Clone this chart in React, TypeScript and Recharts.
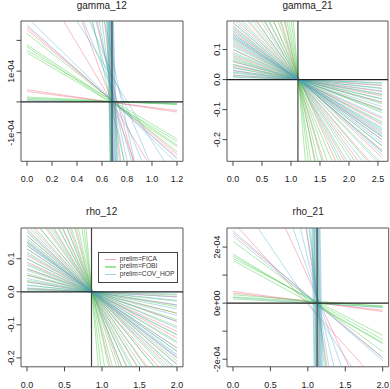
import React from 'react';
import { LineChart, Line, XAxis, YAxis, ReferenceLine, ReferenceArea } from 'recharts';

const FONT = '"Liberation Sans", Arial, Helvetica, sans-serif';

const SERIES = ['prelim=FICA', 'prelim=FOBI', 'prelim=COV_HOP'];
const COLORS = ['#e8506e', '#3ccc3c', '#4aa3c8'];
const OPACITY = [0.38, 0.42, 0.38];

// gamma_12 : each line goes from x = 0 (start) to x = 1.2 (end)
const g12XEnd = 1.2;
const g12XTicks = [0, 0.2, 0.4, 0.6, 0.8, 1.0, 1.2];
const g12YTicks = [-1e-4, 0, 1e-4, 2e-4];
const g12YLabels = ['-1e-04', '', '1e-04', ''];
const g12FicaStart = [2.44e-4, 2.35e-4, 0.40e-4, 0.34e-4, 4.62e-4, 7.41e-4, 11.0e-4, 24.3e-4, 300e-4];
const g12FicaEnd = [-1.80e-4, -1.70e-4, -0.33e-4, -0.28e-4, -3.54e-4, -5.67e-4, -7.24e-4, -17.7e-4, -230e-4];
const g12FobiStart = [2.22e-4, 1.86e-4, 1.79e-4, 1.68e-4, 1.60e-4, 0.16e-4, 0.12e-4, 0.08e-4, 12.0e-4, 22.2e-4, 400e-4, 500e-4];
const g12FobiEnd = [-1.62e-4, -1.40e-4, -1.45e-4, -1.20e-4, -1.28e-4, -0.09e-4, -0.07e-4, -0.06e-4, -9.5e-4, -16.9e-4, -327e-4, -400e-4];
const g12CovStart = [2.75e-4, 2.50e-4, 0.05e-4, 5.23e-4, 7.0e-4, 7.38e-4, 10.0e-4, 13.3e-4, 14.4e-4, 15.8e-4,
  0.01, 0.01, 0.01, 0.01, 0.01, 0.01, 0.01, 0.01, 0.01, 0.01, 0.01, 0.01];
const g12CovEnd = [-2.0e-4, -1.85e-4, -0.04e-4, -2.58e-4, -4.64e-4, -4.02e-4, -7.1e-4, -9.5e-4, -8.4e-4, -11.6e-4,
  -0.00832, -0.00818, -0.00805, -0.00791, -0.00778, -0.00765, -0.00752, -0.00739, -0.00727, -0.00714, -0.00702, -0.0069];

// gamma_21 : x from 0 to 2.57
const g21XEnd = 2.57;
const g21XTicks = [0, 0.5, 1.0, 1.5, 2.0, 2.5];
const g21YTicks = [-0.2, -0.1, 0, 0.1];
const g21YLabels = ['-0.2', '-0.1', '0.0', '0.1'];
const g21FicaStart = [0.015, 0.03, 0.045, 0.06, 0.08, 0.1, 0.12, 0.14, 0.16, 0.18, 0.21, 0.25, 0.3, 0.38, 0.5, 0.7, 1.0];
const g21FicaEnd = [-0.02, -0.04, -0.055, -0.075, -0.1, -0.13, -0.15, -0.18, -0.2, -0.235, -0.26, -0.32, -0.38, -0.49, -0.62, -0.9, -1.3];
const g21FobiStart = [0.01, 0.025, 0.04, 0.05, 0.065, 0.075, 0.09, 0.11, 0.13, 0.15, 0.17, 0.19, 0.22, 0.26, 0.31, 0.37, 0.44, 0.52, 0.62, 0.75, 0.9, 1.1, 1.4, 1.8, 2.5];
const g21FobiEnd = [-0.012, -0.03, -0.05, -0.065, -0.08, -0.1, -0.11, -0.14, -0.165, -0.19, -0.22, -0.24, -0.28, -0.33, -0.4, -0.47, -0.56, -0.67, -0.79, -0.96, -1.15, -1.4, -1.8, -2.3, -3.2];
const g21CovStart = [0.008, 0.015, 0.022, 0.03, 0.038, 0.05, 0.06, 0.07, 0.085, 0.1, 0.115, 0.125, 0.135, 0.14, 0.145, 0.15, 0.155, 0.165, 0.175, 0.19, 0.2, 0.23, 0.28, 0.34, 0.42];
const g21CovEnd = [-0.01, -0.018, -0.028, -0.038, -0.048, -0.063, -0.075, -0.09, -0.105, -0.125, -0.145, -0.16, -0.17, -0.175, -0.185, -0.19, -0.2, -0.21, -0.22, -0.24, -0.25, -0.29, -0.355, -0.43, -0.53];

// rho_12 : x from 0 to 2
const r12XEnd = 2;
const r12XTicks = [0, 0.5, 1.0, 1.5, 2.0];
const r12YTicks = [-0.2, -0.1, 0, 0.1];
const r12YLabels = ['-0.2', '-0.1', '0.0', '0.1'];
const r12FicaStart = [0.01, 0.03, 0.05, 0.07, 0.09, 0.11, 0.13, 0.15, 0.17, 0.19, 0.22, 0.27, 0.33, 0.42, 0.55, 0.8];
const r12FicaEnd = [-0.015, -0.04, -0.065, -0.09, -0.12, -0.14, -0.17, -0.2, -0.22, -0.25, -0.29, -0.35, -0.43, -0.55, -0.71, -1.05];
const r12FobiStart = [0.008, 0.02, 0.035, 0.05, 0.065, 0.08, 0.1, 0.12, 0.14, 0.16, 0.18, 0.21, 0.24, 0.28, 0.32, 0.37, 0.43, 0.5, 0.6, 0.72, 0.9, 1.2, 1.6, 2.2];
const r12FobiEnd = [-0.01, -0.028, -0.045, -0.065, -0.085, -0.105, -0.13, -0.155, -0.18, -0.21, -0.235, -0.27, -0.31, -0.36, -0.42, -0.48, -0.56, -0.65, -0.78, -0.94, -1.17, -1.56, -2.1, -2.9];
const r12CovStart = [0.005, 0.012, 0.02, 0.03, 0.04, 0.055, 0.07, 0.085, 0.1, 0.115, 0.13, 0.14, 0.145, 0.15, 0.155, 0.17, 0.185, 0.2, 0.24, 0.3, 0.38, 0.5];
const r12CovEnd = [-0.007, -0.016, -0.026, -0.04, -0.052, -0.072, -0.09, -0.11, -0.13, -0.15, -0.17, -0.18, -0.19, -0.195, -0.2, -0.22, -0.24, -0.26, -0.31, -0.39, -0.5, -0.65];

// rho_21 : x from 0 to 2
const r21XEnd = 2;
const r21XTicks = [0, 0.5, 1.0, 1.5, 2.0];
const r21YTicks = [-2e-4, -1e-4, 0, 1e-4, 2e-4];
const r21YLabels = ['-2e-04', '', '0e+00', '', '2e-04'];
const r21FicaStart = [2.50e-4, 0.42e-4, 0.36e-4, 2.9e-4, 6.75e-4, 20e-4, 0.02];
const r21FicaEnd = [-1.95e-4, -0.30e-4, -0.25e-4, -3.0e-4, -4.89e-4, -15.5e-4, -0.0154];
const r21FobiStart = [2.20e-4, 1.75e-4, 1.68e-4, 1.60e-4, 1.52e-4, 0.30e-4, 0.22e-4, 0.15e-4, 25e-4, 0.02, 0.02];
const r21FobiEnd = [-1.73e-4, -1.45e-4, -1.30e-4, -1.15e-4, -1.40e-4, -0.12e-4, -0.10e-4, -0.14e-4, -19e-4, -0.01636, -0.0148];
const r21CovStart = [2.58e-4, 2.40e-4, 0.20e-4, 4.0e-4, 8.77e-4, 12.58e-4, 18.85e-4, 29.5e-4,
  0.02, 0.02, 0.02, 0.02, 0.02, 0.02, 0.02, 0.02, 0.02, 0.02, 0.02, 0.02];
const r21CovEnd = [-2.05e-4, -1.95e-4, -0.16e-4, -3.9e-4, -6.46e-4, -9.42e-4, -14.15e-4, -22.6e-4,
  -0.01738, -0.01704, -0.0167, -0.01636, -0.01604, -0.01571, -0.0154, -0.01509, -0.01478, -0.01448, -0.01419, -0.0139];

const PANELS = [
  {
    title: 'gamma_12', box: [20.7, 20.7, 182.7, 161], xDomain: [-0.048, 1.248], yDomain: [-1.93e-4, 2.63e-4],
    xTicks: g12XTicks, yTicks: g12YTicks, yLabels: g12YLabels, xEnd: g12XEnd, pivot: 0.68,
    starts: [g12FicaStart, g12FobiStart, g12CovStart], ends: [g12FicaEnd, g12FobiEnd, g12CovEnd],
  },
  {
    title: 'gamma_21', box: [227, 20.7, 388, 161], xDomain: [-0.103, 2.673], yDomain: [-0.272, 0.195],
    xTicks: g21XTicks, yTicks: g21YTicks, yLabels: g21YLabels, xEnd: g21XEnd, pivot: 1.12,
    starts: [g21FicaStart, g21FobiStart, g21CovStart], ends: [g21FicaEnd, g21FobiEnd, g21CovEnd],
  },
  {
    title: 'rho_12', box: [20.7, 227.7, 182.7, 366.5], xDomain: [-0.08, 2.08], yDomain: [-0.227, 0.193],
    xTicks: r12XTicks, yTicks: r12YTicks, yLabels: r12YLabels, xEnd: r12XEnd, pivot: 0.86,
    starts: [r12FicaStart, r12FobiStart, r12CovStart], ends: [r12FicaEnd, r12FobiEnd, r12CovEnd],
  },
  {
    title: 'rho_21', box: [227.3, 227.7, 389, 366.5], xDomain: [-0.08, 2.08], yDomain: [-2.27e-4, 2.68e-4],
    xTicks: r21XTicks, yTicks: r21YTicks, yLabels: r21YLabels, xEnd: r21XEnd, pivot: 1.124,
    starts: [r21FicaStart, r21FobiStart, r21CovStart], ends: [r21FicaEnd, r21FobiEnd, r21CovEnd],
  },
];

const YW = 20;
const XH = 30;
const PAD = 2;

const YTick = ({ x, y, payload, ticks, labels }: any) => {
  const label = labels[ticks.indexOf(payload.value)] ?? '';
  if (!label) return null;
  return (
    <text x={x} y={y} transform={`rotate(-90 ${x} ${y})`} textAnchor="middle" fontSize={9} fill="#222" fontFamily={FONT}>
      {label}
    </text>
  );
};

function Panel({ p }: { p: any }) {
  const [l, t, r, b] = p.box;
  const w = YW + (r - l) + PAD;
  const h = PAD + (b - t) + XH;
  return (
    <>
      <div style={{ position: 'absolute', left: l, width: r - l, top: t < 100 ? 1 : 207, textAlign: 'center', fontSize: 10, lineHeight: '10px', color: '#222' }}>
        {p.title}
      </div>
      <div style={{ position: 'absolute', left: l - YW, top: t - PAD }}>
        <LineChart width={w} height={h} margin={{ top: PAD, right: PAD, bottom: 0, left: 0 }}>
          <XAxis dataKey="x" type="number" domain={p.xDomain} ticks={p.xTicks} interval={0} allowDataOverflow
            axisLine={false} tickLine={{ stroke: '#444' }} tickSize={4.5} tickMargin={10.3} height={XH}
            tick={{ fontSize: 9, fill: '#222', fontFamily: FONT }} tickFormatter={(v: number) => v.toFixed(1)} />
          <YAxis type="number" domain={p.yDomain} ticks={p.yTicks} interval={0} allowDataOverflow
            axisLine={false} tickLine={{ stroke: '#444' }} tickSize={4.5} tickMargin={2} width={YW}
            tick={(props: any) => <YTick {...props} ticks={p.yTicks} labels={p.yLabels} />} />
          {p.starts.map((starts: number[], s: number) =>
            starts.map((a, i) => (
              <Line key={`${s}-${i}`} data={[{ x: 0, y: a }, { x: p.xEnd, y: p.ends[s][i] }]} dataKey="y"
                stroke={COLORS[s]} strokeOpacity={OPACITY[s]} strokeWidth={1} dot={false} activeDot={false}
                isAnimationActive={false} />
            ))
          )}
          <ReferenceLine y={0} stroke="#222" strokeWidth={1.3} />
          <ReferenceLine x={p.pivot} stroke="#444" strokeWidth={1.2} />
          <ReferenceArea x1={p.xDomain[0]} x2={p.xDomain[1]} y1={p.yDomain[0]} y2={p.yDomain[1]}
            fill="none" fillOpacity={0} stroke="#555" strokeWidth={1} ifOverflow="visible" />
        </LineChart>
      </div>
    </>
  );
}

function Legend() {
  return (
    <div style={{ position: 'absolute', left: 97.7, top: 251.7, width: 78, height: 29.5, border: '1px solid #444', background: '#fff' }}>
      {SERIES.map((name, i) => (
        <div key={name} style={{ position: 'absolute', left: 0, top: 2.5 + i * 7.3, height: 8, width: 78 }}>
          <div style={{ position: 'absolute', left: 6, top: 4, width: 11, height: 1.2, background: COLORS[i], opacity: 0.5 }} />
          <div style={{ position: 'absolute', left: 21, top: 0, fontSize: 6.7, lineHeight: '8px', color: '#333', whiteSpace: 'nowrap' }}>
            {name}
          </div>
        </div>
      ))}
    </div>
  );
}

export default function App() {
  return (
    <div style={{ position: 'fixed', left: 0, top: 0, width: 390, height: 389, background: '#fff', overflow: 'hidden', fontFamily: FONT }}>
      {PANELS.map(p => <Panel key={p.title} p={p} />)}
      <Legend />
    </div>
  );
}
